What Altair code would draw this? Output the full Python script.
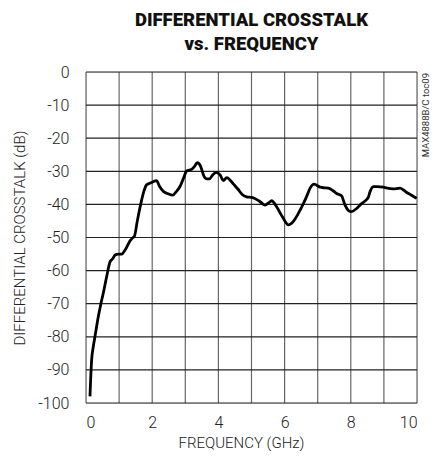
import altair as alt
import pandas as pd

freq_ghz = [0.12, 0.14, 0.17, 0.22, 0.27, 0.37, 0.45, 0.52, 0.62, 0.73, 0.80, 0.88, 0.98,
            1.08, 1.18, 1.33, 1.42, 1.46, 1.55, 1.68, 1.75, 1.83, 1.98, 2.13, 2.22, 2.34,
            2.48, 2.62, 2.72, 2.84, 2.95, 3.04, 3.19, 3.28, 3.36, 3.46, 3.56, 3.65, 3.73,
            3.82, 3.93, 4.05, 4.15, 4.25, 4.35, 4.45, 4.60, 4.72, 4.85, 5.00, 5.10, 5.26,
            5.41, 5.52, 5.61, 5.68, 5.76, 5.86, 5.96, 6.04, 6.11, 6.26, 6.40, 6.57, 6.67,
            6.77, 6.89, 7.07, 7.20, 7.32, 7.45, 7.57, 7.72, 7.80, 7.85, 7.92, 8.00, 8.18,
            8.30, 8.46, 8.53, 8.58, 8.68, 8.80, 8.98, 9.10, 9.28, 9.49, 9.60, 9.69, 9.85, 9.99]
crosstalk_db = [-98, -93, -87, -83, -80, -74, -70, -66.9, -62, -57.3, -56.5, -55.3, -55,
                -55, -53.8, -51, -50, -49.7, -45, -38.7, -36, -34.1, -33.4, -32.8, -34.5, -36.1,
                -36.8, -37.2, -36.2, -34.6, -32, -29.9, -29.4, -28.5, -27.4, -28.4, -31.4, -32.3, -32.3,
                -31.2, -30.3, -31.1, -32.8, -31.9, -32.6, -33.8, -35.5, -37, -37.7, -37.9, -38.2, -39.2,
                -40.2, -39.5, -38.9, -39.5, -40.7, -42.5, -44.2, -45.5, -46.2, -45.2, -43, -39.7, -37.5,
                -35.1, -33.9, -34.8, -35, -35.1, -35.8, -36.7, -37.4, -39.5, -40.7, -41.8, -42.2, -41.2,
                -40, -38.7, -37.8, -36.2, -34.6, -34.6, -34.8, -35.1, -35.3, -35.1, -35.7, -36.4, -37.3, -38.2]

x_ticks = list(range(0, 11, 2))
x_grid = list(range(0, 11))
y_ticks = list(range(-100, 1, 10))

title_lines = ["DIFFERENTIAL CROSSTALK", "vs. FREQUENCY"]
side_note = "MAX4888B/C toc09"

df = pd.DataFrame({"f": freq_ghz, "db": crosstalk_db})
grid_x_df = pd.DataFrame({"f": x_grid})
grid_y_df = pd.DataFrame({"db": y_ticks})

FONT = "Roboto, Liberation Sans, sans-serif"

x_scale = alt.Scale(domain=[0, 10], nice=False)
y_scale = alt.Scale(domain=[-100, 0], nice=False)

x_axis = alt.Axis(title="FREQUENCY (GHz)", values=x_ticks, grid=False, ticks=False,
                  domain=False, labelPadding=11, labelFontSize=16, labelFont=FONT,
                  labelOverlap=False, labelFontWeight=300,
                  labelColor="#222", titleFont=FONT, titleFontSize=15,
                  titleFontWeight=300, titleColor="#222", titlePadding=5,
                  titleX=155)
y_axis = alt.Axis(title="DIFFERENTIAL CROSSTALK (dB)", values=y_ticks, grid=False,
                  ticks=False, domain=False, labelPadding=17, labelFontSize=16,
                  labelOverlap=False, labelFontWeight=300,
                  labelExpr="replace(datum.label, '\u2212', '-')",
                  labelFont=FONT, labelColor="#222", titleFont=FONT, titleFontSize=15,
                  titleFontWeight=300, titleColor="#222", titlePadding=10)

X = alt.X("f:Q", scale=x_scale, axis=x_axis)
Y = alt.Y("db:Q", scale=y_scale, axis=y_axis)

vgrid = alt.Chart(grid_x_df).mark_rule(color="#666", strokeWidth=1.2).encode(x=X)
hgrid = alt.Chart(grid_y_df).mark_rule(color="#222", strokeWidth=1.2).encode(y=Y)

line = alt.Chart(df).mark_line(color="black", strokeWidth=2.8, interpolate="monotone").encode(
    x=X, y=Y
)

note = alt.Chart(pd.DataFrame({"t": [side_note]})).mark_text(
    angle=270, fontSize=9.5, font=FONT, color="#333", align="right", baseline="middle"
).encode(text="t:N", x=alt.value(340), y=alt.value(1))

chart = alt.layer(vgrid, hgrid, line, note).properties(
    width=331, height=331,
    title=alt.TitleParams(title_lines, font=FONT, fontSize=18.5, fontWeight=900,
                          anchor="middle", frame="group", lineHeight=24, offset=11,
                          color="#111"),
    autosize=alt.AutoSizeParams(type="none"),
    padding={"left": 78, "top": 64, "right": 13, "bottom": 48},
).configure_view(stroke="black", strokeWidth=3).configure(background="white")

chart.save("out.html", embed_options={"renderer": "svg", "actions": False})
